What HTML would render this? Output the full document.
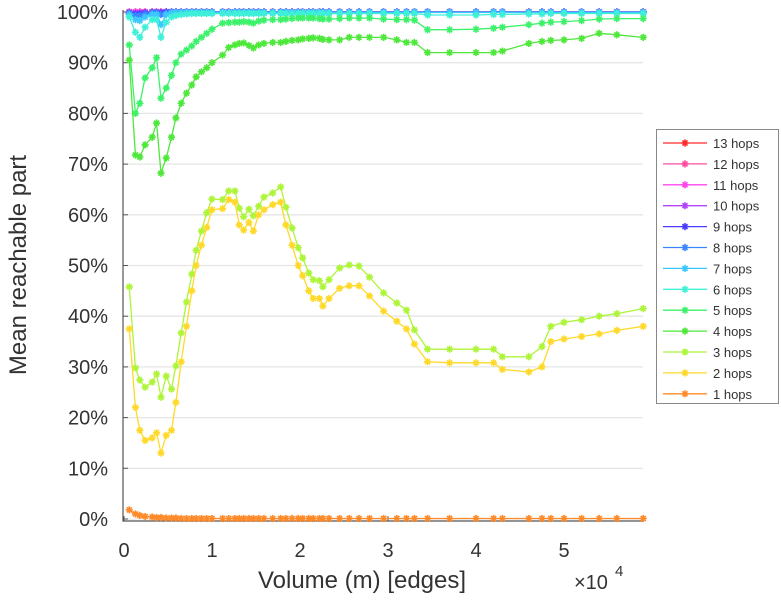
<!DOCTYPE html>
<html><head><meta charset="utf-8"><style>
html,body{margin:0;padding:0;background:#fff;}
svg{display:block;font-family:"Liberation Sans",sans-serif;}
</style></head><body>
<svg id="chart" width="781" height="600" viewBox="0 0 781 600"></svg>
<script>
const xs=[0.06,0.13,0.18,0.24,0.32,0.37,0.42,0.48,0.54,0.59,0.65,0.71,0.77,0.82,0.88,0.94,1.0,1.12,1.19,1.26,1.31,1.36,1.42,1.47,1.53,1.59,1.69,1.78,1.84,1.91,1.98,2.03,2.1,2.15,2.22,2.26,2.33,2.45,2.56,2.67,2.79,2.95,3.1,3.21,3.3,3.45,3.7,4.0,4.2,4.3,4.6,4.75,4.85,5.0,5.2,5.4,5.6,5.9];
const hop1=[1.8,1,0.7,0.5,0.4,0.3,0.3,0.2,0.2,0.2,0.1,0.1,0.1,0.1,0.1,0.1,0.1,0.1,0.1,0.1,0.1,0.1,0.1,0.1,0.1,0.1,0.1,0.1,0.1,0.1,0.1,0.1,0.1,0.1,0.1,0.1,0.1,0.1,0.1,0.1,0.1,0.1,0.1,0.1,0.1,0.1,0.1,0.1,0.1,0.1,0.1,0.1,0.1,0.1,0.1,0.1,0.1,0.1];
const hop2=[37.5,22,17.5,15.5,16,17,13,16.5,17.5,23,31,38,45,50,54,57.5,61,61.2,63,62.5,58,57,58.5,56.8,60,61,62,62.5,58,54,50,48,45,43.5,43.5,42,43.5,45.5,46,46,44,41,39,37.5,34.5,31,30.8,30.8,30.8,29.5,29,30,35,35.5,36,36.5,37.2,38];
const hop3=[45.8,29.8,27.4,26,27,28.6,24,28.2,25.6,30.2,36.7,42.8,48.3,53,56.8,60.4,63.1,63,64.7,64.7,61.3,59.6,61.1,59.8,61.7,63.5,64.3,65.5,61.5,57.4,53.5,51.5,48.5,47.2,47,45.8,47.2,49.5,50.1,49.9,47.7,44.6,42.6,41.2,37.3,33.5,33.5,33.5,33.5,32,32,34,38,38.8,39.3,40,40.5,41.5];
const hop4=[90.5,71.8,71.4,73.8,75.3,78.1,68.2,71.2,75.3,79.1,82,84,85.6,87.2,88.2,89,90,91.5,93,93.5,93.8,93.9,93.4,92.9,93.5,93.8,94,94,94.2,94.4,94.5,94.7,94.8,94.9,94.8,94.6,94.5,94.5,95,95,95,95,94.5,94,94,92,92,92,92,92.3,93.8,94.2,94.4,94.5,94.8,95.8,95.5,95];
const hop5=[93.5,80,82,87,89,91,83,85,87.5,90,91.7,92.5,93.3,94.2,95,95.8,96.6,97.8,97.9,98,98,98.1,98,97.8,98.2,98.4,98.5,98.5,98.6,98.7,98.8,98.8,98.8,98.8,98.7,98.6,98.6,98.7,98.8,98.8,98.8,98.6,98.5,98.5,98.4,96.5,96.5,96.6,96.8,97,97.5,97.8,98,98.1,98.3,98.6,98.7,98.7];
const hop6=[99,96,95,97,98.5,98.5,95,98,99,99.3,99.5,99.6,99.7,99.7,99.7,99.7,99.7,99.7,99.7,99.7,99.7,99.7,99.7,99.7,99.7,99.7,99.7,99.7,99.7,99.7,99.7,99.7,99.7,99.7,99.7,99.7,99.7,99.7,99.7,99.7,99.7,99.7,99.7,99.7,99.7,99.4,99.4,99.4,99.5,99.5,99.6,99.6,99.7,99.7,99.7,99.7,99.7,99.7];
const hop7=[99.5,98.5,98.3,99,99.5,99.5,97.5,99.5,99.8,99.9,99.9,99.9,99.9,99.9,99.9,99.9,99.9,99.9,99.9,99.9,99.9,99.9,99.9,99.9,99.9,99.9,99.9,99.9,99.9,99.9,99.9,99.9,99.9,99.9,99.9,99.9,99.9,99.9,99.9,99.9,99.9,99.9,99.9,99.9,99.9,99.9,99.9,99.9,99.9,99.9,99.9,99.9,99.9,99.9,99.9,99.9,99.9,99.9];
const hop8=[99.7,99.3,99.3,99.6,99.8,99.8,99.5,99.8,100,100,100,100,100,100,100,100,100,100,100,100,100,100,100,100,100,100,100,100,100,100,100,100,100,100,100,100,100,100,100,100,100,100,100,100,100,100,100,100,100,100,100,100,100,100,100,100,100,100];
const hop9=[99.8,99.6,99.6,99.8,99.9,99.9,99.8,100,100,100,100,100,100,100,100,100,100,100,100,100,100,100,100,100,100,100,100,100,100,100,100,100,100,100,100,100,100,100,100,100,100,100,100,100,100,100,100,100,100,100,100,100,100,100,100,100,100,100];
const hop10=[99.9,99.8,99.8,99.9,100,100,99.9,100,100,100,100,100,100,100,100,100,100,100,100,100,100,100,100,100,100,100,100,100,100,100,100,100,100,100,100,100,100,100,100,100,100,100,100,100,100,100,100,100,100,100,100,100,100,100,100,100,100,100];
const hopTop=[100,100,100,100,100,100,100,100,100,100,100,100,100,100,100,100,100,100,100,100,100,100,100,100,100,100,100,100,100,100,100,100,100,100,100,100,100,100,100,100,100,100,100,100,100,100,100,100,100,100,100,100,100,100,100,100,100,100];
const seriesNames=["13 hops","12 hops","11 hops","10 hops","9 hops","8 hops","7 hops","6 hops","5 hops","4 hops","3 hops","2 hops","1 hops"];
const seriesValues=[hopTop,hopTop,hopTop,hop10,hop9,hop8,hop7,hop6,hop5,hop4,hop3,hop2,hop1];
const seriesColors=["#ff2a2a","#ff4f9e","#ff44ee","#b044ff","#4a3cff","#3a86ff","#3cc8ff","#3ef0d8","#3cf26a","#4ee83a","#aef53a","#ffd92a","#ff8a2a"];
const yTicks=[0,10,20,30,40,50,60,70,80,90,100];
const xTicks=[0,1,2,3,4,5];

const NS="http://www.w3.org/2000/svg";
const svg=document.getElementById('chart');
const L=123,R=643,T=12,B=519;
const xS=v=>L+1+v*88;
const yS=v=>B-(B-T)*v/100;
function mk(tag,attrs,parent){const e=document.createElementNS(NS,tag);for(const k in attrs)e.setAttribute(k,attrs[k]);(parent||svg).appendChild(e);return e;}

yTicks.forEach(t=>{
  const g=mk('line',{x1:L,x2:R,y1:yS(t),y2:yS(t),stroke:'#e6e6e6','stroke-width':1.3});
  
  
  const tk=mk('line',{x1:L,x2:L+5,y1:yS(t),y2:yS(t),stroke:'#555','stroke-width':1});
  
  
  const tx=mk('text',{x:108,y:yS(t)+7,'text-anchor':'end','font-size':20,fill:'#333'});
  tx.textContent=t+'%';
  
  
});
xTicks.forEach(t=>{
  const tk=mk('line',{x1:xS(t),x2:xS(t),y1:B+2,y2:B-3,stroke:'#555','stroke-width':1});
  
  
  const tx=mk('text',{x:xS(t),y:557,'text-anchor':'middle','font-size':20,fill:'#333'});
  tx.textContent=t;
  
  
});
const ax=mk('path',{d:`M${L} ${T-2} L${L} ${B+2} L${R} ${B+2}`,fill:'none',stroke:'#555','stroke-width':1.2});



function star(g,x,y,c,s){
  mk('path',{d:`M${x-s} ${y}H${x+s}M${x} ${y-s}V${y+s}M${x-s*0.7} ${y-s*0.7}L${x+s*0.7} ${y+s*0.7}M${x-s*0.7} ${y+s*0.7}L${x+s*0.7} ${y-s*0.7}`,stroke:c,'stroke-width':1.6,fill:'none'},g);
}
// draw 13 hops first, 1 hops last
for(let i=0;i<seriesValues.length;i++){
  const vals=seriesValues[i],c=seriesColors[i];
  const g=mk('g',{});
  
  
  const pts=xs.map((x,j)=>xS(x).toFixed(1)+','+yS(vals[j]).toFixed(1)).join(' ');
  mk('polyline',{points:pts,fill:'none',stroke:c,'stroke-width':1.3},g);
  xs.forEach((x,j)=>star(g,xS(x),yS(vals[j]),c,3.6));
}

const xt=mk('text',{x:362,y:588,'text-anchor':'middle','font-size':24,fill:'#333'});
xt.textContent='Volume (m) [edges]';


const ex=mk('text',{x:574,y:589,'font-size':20,fill:'#333'});
ex.textContent='×10';


const ex2=mk('text',{x:615,y:576,'font-size':15,fill:'#333'});
ex2.textContent='4';


const yt=mk('text',{x:0,y:0,'text-anchor':'middle','font-size':24,fill:'#333',transform:'translate(26,265) rotate(-90)'});
yt.textContent='Mean reachable part';



const lg=mk('g',{});


mk('rect',{x:656.5,y:129.5,width:122,height:274,fill:'#fff',stroke:'#888','stroke-width':1},lg);
seriesNames.forEach((n,i)=>{
  const y=143+i*20.9,c=seriesColors[i];
  const e=mk('g',{},lg);
  
  
  mk('line',{x1:663,x2:707,y1:y,y2:y,stroke:c,'stroke-width':1.3},e);
  star(e,685,y,c,3.6);
  const t=mk('text',{x:713,y:y+5,'font-size':13,fill:'#333'},e);
  t.textContent=n;
});
</script>
</body></html>
